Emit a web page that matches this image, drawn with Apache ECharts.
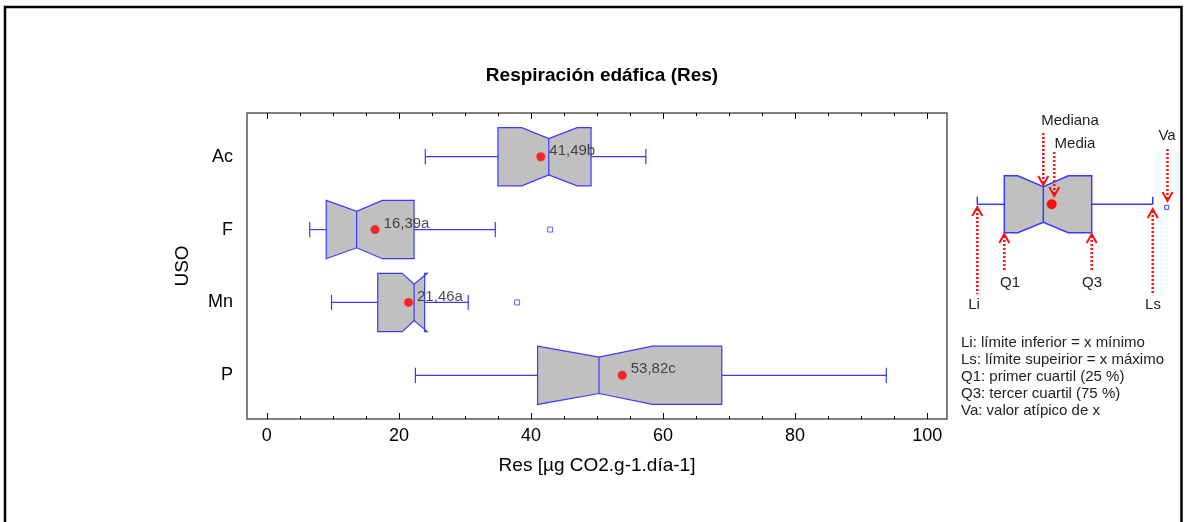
<!DOCTYPE html>
<html>
<head>
<meta charset="utf-8">
<title>Respiración edáfica (Res)</title>
<script src="https://cdn.jsdelivr.net/npm/echarts@6/dist/echarts.min.js"></script>
<style>
  html, body { margin: 0; padding: 0; background: #fff; }
  #chart { width: 1187px; height: 522px; }
</style>
</head>
<body>
<div id="chart"></div>
<script>
// USO categories and notched box values (Res, µg CO2.g-1.día-1)
const categories = ['Ac', 'F', 'Mn', 'P'];
const whiskerLow = [24.0, 6.5, 9.8, 22.5];
const q1 = [35.0, 9.0, 16.8, 41.0];
const notchLow = [38.6, 9.0, 20.5, 41.0];
const median = [42.7, 13.6, 22.3, 50.3];
const notchHigh = [47.0, 17.5, 24.3, 58.4];
const q3 = [49.1, 22.3, 23.9, 68.9];
const whiskerHigh = [57.4, 34.6, 30.5, 93.8];
const means = [41.49, 16.39, 21.46, 53.82];
const meanLetters = ['b', 'a', 'a', 'c'];
const outlierCategories = ['F', 'Mn'];
const outlierValues = [42.9, 37.9];
const majorTicks = [0, 20, 40, 60, 80, 100];
const minorTicks = [0, 5, 10, 15, 20, 25, 30, 35, 40, 45, 50, 55, 60, 65, 70, 75, 80, 85, 90, 95, 100];

const FONT = 'Liberation Sans';
const BLUE = '#3a3aff';
const RED = '#ff1010';

const boxData = categories.map((c, i) => [i, whiskerLow[i], q1[i], notchLow[i], median[i], notchHigh[i], q3[i], whiskerHigh[i]]);
const meanData = means.map((m, i) => [m, i]);
const outlierData = outlierValues.map((v, i) => [v, categories.indexOf(outlierCategories[i])]);

function renderBox(params, api) {
  const cy = api.value(0);
  const p = (v, dy) => api.coord([v, cy + dy]);
  const wl = api.value(1), lo = api.value(2), nl = api.value(3), md = api.value(4);
  const nh = api.value(5), hi = api.value(6), wh = api.value(7);
  const H = 0.4, N = 0.25, C = 0.105; // half heights in category units
  const line = (a, b) => ({
    type: 'line',
    shape: { x1: a[0], y1: a[1], x2: b[0], y2: b[1] },
    style: { stroke: BLUE, lineWidth: 1.2 }
  });
  return {
    type: 'group',
    children: [
      line(p(wl, 0), p(lo, 0)),
      line(p(hi, 0), p(wh, 0)),
      line(p(wl, -C), p(wl, C)),
      line(p(wh, -C), p(wh, C)),
      {
        type: 'polygon',
        shape: { points: [p(lo, -H), p(nl, -H), p(md, -N), p(nh, -H), p(hi, -H), p(hi, H), p(nh, H), p(md, N), p(nl, H), p(lo, H)] },
        style: { fill: '#c0c0c0', stroke: BLUE, lineWidth: 1.2 }
      },
      line(p(md, -N), p(md, N))
    ]
  };
}

function xAxisDef(position, ticks, len, showLabel) {
  return {
    type: 'value',
    position: position,
    min: -3,
    max: 103,
    axisLine: { show: false, onZero: false },
    splitLine: { show: false },
    axisTick: { show: true, inside: true, length: len, customValues: ticks, lineStyle: { color: '#000', width: 1 } },
    axisLabel: showLabel
      ? { show: true, customValues: majorTicks, fontSize: 18, margin: 8, color: '#000', fontFamily: FONT }
      : { show: false }
  };
}

// explanatory diagram on the right
function arrow(x, yTip, yEnd) {
  const dir = yEnd > yTip ? 1 : -1;
  return [
    { type: 'line', silent: true, shape: { x1: x, y1: yTip + dir * 2, x2: x, y2: yEnd }, style: { stroke: RED, lineWidth: 2.5, lineDash: [2, 2] } },
    { type: 'polyline', silent: true, shape: { points: [[x - 5, yTip + dir * 9], [x, yTip], [x + 5, yTip + dir * 9]] }, style: { stroke: RED, lineWidth: 2, fill: null } }
  ];
}
function txt(text, x, y, align) {
  return {
    type: 'text', silent: true,
    style: { text: text, x: x, y: y, fill: '#222', font: '15px "' + FONT + '"', align: align || 'center', verticalAlign: 'middle' }
  };
}
function seg(x1, y1, x2, y2) {
  return { type: 'line', silent: true, shape: { x1, y1, x2, y2 }, style: { stroke: BLUE, lineWidth: 1.5 } };
}

const legendNotes = [
  'Li: límite inferior = x mínimo',
  'Ls: límite supeirior = x máximo',
  'Q1: primer cuartil (25 %)',
  'Q3: tercer cuartil (75 %)',
  'Va: valor atípico de x'
];

const graphics = [
  { type: 'rect', silent: true, z: -1, shape: { x: 5, y: 7, width: 1176.5, height: 540 }, style: { fill: null, stroke: '#000', lineWidth: 2.5 } },
  seg(977.3, 204.3, 1004.3, 204.3),
  seg(1091.7, 204.3, 1152.7, 204.3),
  seg(977.3, 196.7, 977.3, 204.3),
  seg(1152.7, 196.7, 1152.7, 204.3),
  {
    type: 'polygon', silent: true,
    shape: { points: [[1004.3, 175.7], [1017.7, 175.7], [1043.3, 186.7], [1068.3, 175.7], [1091.7, 175.7], [1091.7, 232.7], [1068.3, 232.7], [1043.3, 222.3], [1017.7, 232.7], [1004.3, 232.7]] },
    style: { fill: '#c0c0c0', stroke: BLUE, lineWidth: 1.5 }
  },
  seg(1043.3, 186.7, 1043.3, 222.3),
  { type: 'rect', silent: true, shape: { x: 1164.7, y: 205.3, width: 4, height: 4 }, style: { fill: '#fff', stroke: BLUE, lineWidth: 1 } },
  { type: 'circle', silent: true, shape: { cx: 1051.7, cy: 204.3, r: 5 }, style: { fill: RED } },
  ...arrow(1043.3, 185, 132),
  ...arrow(1054.3, 196, 152),
  ...arrow(1167.5, 201, 148),
  ...arrow(977.3, 207, 294),
  ...arrow(1004.3, 234, 270),
  ...arrow(1091.7, 234, 270),
  ...arrow(1152.7, 209, 293),
  txt('Mediana', 1070, 121),
  txt('Media', 1075, 144),
  txt('Va', 1167, 136),
  txt('Q1', 1010, 283),
  txt('Q3', 1092, 283),
  txt('Li', 974, 305),
  txt('Ls', 1153, 305),
  ...legendNotes.map((t, i) => txt(t, 961, 342.7 + i * 17, 'left'))
];

const chart = echarts.init(document.getElementById('chart'));
chart.setOption({
  backgroundColor: '#fff',
  animation: false,
  textStyle: { fontFamily: FONT },
  title: {
    text: 'Respiración edáfica (Res)',
    left: 597,
    textAlign: 'center',
    top: 61,
    textStyle: { fontSize: 19, fontWeight: 'bold', color: '#000', fontFamily: FONT }
  },
  grid: {
    left: 247, top: 113, right: 240, bottom: 103,
    show: true, borderColor: '#555', borderWidth: 1.5, backgroundColor: '#fff'
  },
  xAxis: [
    Object.assign(xAxisDef('bottom', majorTicks, 6, true), {
      name: 'Res [µg CO2.g-1.día-1]',
      nameLocation: 'middle',
      nameGap: 37,
      nameTextStyle: { fontSize: 19, color: '#000', fontFamily: FONT }
    }),
    xAxisDef('bottom', minorTicks, 3, false),
    xAxisDef('top', majorTicks, 6, false),
    xAxisDef('top', minorTicks, 3, false)
  ],
  yAxis: {
    type: 'value',
    inverse: true,
    min: -0.6,
    max: 3.6,
    name: 'USO',
    nameLocation: 'middle',
    nameGap: 55,
    nameTextStyle: { fontSize: 19, color: '#000', fontFamily: FONT },
    axisLine: { show: false, onZero: false },
    axisTick: { show: false },
    splitLine: { show: false },
    axisLabel: {
      customValues: [0, 1, 2, 3],
      formatter: v => categories[v],
      fontSize: 18,
      margin: 14,
      color: '#000',
      fontFamily: FONT
    }
  },
  graphic: { elements: graphics },
  series: [
    {
      type: 'custom',
      name: 'Res',
      xAxisIndex: 0,
      renderItem: renderBox,
      encode: { x: [1, 2, 3, 4, 5, 6, 7], y: 0 },
      data: boxData,
      z: 2
    },
    {
      type: 'scatter',
      name: 'Media',
      xAxisIndex: 0,
      symbol: 'circle',
      symbolSize: 9,
      itemStyle: { color: '#ff0000' },
      label: {
        show: true,
        position: 'right',
        distance: 4,
        offset: [0, -6],
        fontSize: 15,
        color: '#222',
        fontFamily: FONT,
        formatter: p => means[p.dataIndex].toFixed(2).replace('.', ',') + meanLetters[p.dataIndex]
      },
      data: meanData,
      z: 4
    },
    {
      type: 'scatter',
      name: 'Atípicos',
      xAxisIndex: 0,
      symbol: 'rect',
      symbolSize: 5,
      itemStyle: { color: '#fff', borderColor: BLUE, borderWidth: 1 },
      data: outlierData,
      z: 3
    }
  ]
});
</script>
</body>
</html>
